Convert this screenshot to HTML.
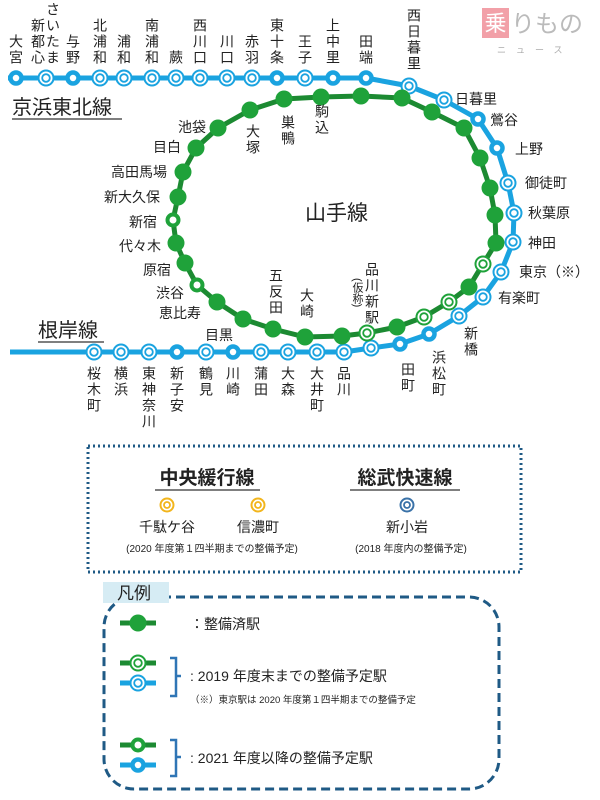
<!DOCTYPE html>
<html><head><meta charset="utf-8"><style>
html,body{margin:0;padding:0;background:#fff;width:600px;height:800px;overflow:hidden}
svg{display:block}
text{font-family:"Liberation Sans","Noto Sans CJK JP",sans-serif;fill:#222}
.v{writing-mode:vertical-rl;font-size:14px;letter-spacing:2px}
.h{font-size:14px}
</style></head><body>
<svg width="600" height="800" viewBox="0 0 600 800" xmlns="http://www.w3.org/2000/svg">
<defs>
<g id="bA"><circle r="5.5" fill="#fff" stroke="#1aa3e0" stroke-width="4.5"/></g>
<g id="bB"><circle r="7.5" fill="#fff" stroke="#1aa3e0" stroke-width="2"/><circle r="3.8" fill="#fff" stroke="#1aa3e0" stroke-width="1.8"/></g>
<g id="gS"><circle r="8.5" fill="#1fa23a"/></g>
<g id="gB"><circle r="7.5" fill="#fff" stroke="#1fa23a" stroke-width="2"/><circle r="3.8" fill="#fff" stroke="#1fa23a" stroke-width="1.8"/></g>
<g id="gH"><circle r="5.5" fill="#fff" stroke="#1fa23a" stroke-width="4"/></g>
</defs>

<!-- logo -->
<rect x="482" y="8" width="27" height="30" fill="#f2a0a8"/>
<text x="495.5" y="31" font-size="22" text-anchor="middle" style="fill:#fff">乗</text>
<text x="511" y="32" font-size="24" style="fill:#bbb">りもの</text>
<text x="497" y="53" font-size="9" letter-spacing="10" style="fill:#aaa">ニュース</text>

<!-- blue line -->
<polyline fill="none" stroke="#1aa3e0" stroke-width="5" stroke-linejoin="round" points="8,78 366,78 409,86 444,100 478,119 497,148 508,183 514,213 513,242 501,272 483,297 459,316 429,334 400,344 371,348 344,352 10,352"/>
<!-- green loop -->
<polygon fill="none" stroke="#1c8a32" stroke-width="5" stroke-linejoin="round" points="218,128 250,110 284,99 321,97 361,96 402,98 432,112 464,128 480,158 490,188 495,215 496,243 483,264 469,287 449,302 424,317 397,327 367,333 342,336 305,337 273,329 243,319 217,302 197,285 185,263 176,243 173,220 178,197 183,172 196,148"/>

<!-- blue stations -->
<use href="#bA" x="16" y="78"/><use href="#bB" x="46" y="78"/><use href="#bA" x="73" y="78"/>
<use href="#bB" x="100" y="78"/><use href="#bB" x="124" y="78"/><use href="#bB" x="152" y="78"/>
<use href="#bB" x="176" y="78"/><use href="#bB" x="200" y="78"/><use href="#bB" x="227" y="78"/>
<use href="#bB" x="252" y="78"/><use href="#bA" x="277" y="78"/><use href="#bB" x="305" y="78"/>
<use href="#bA" x="333" y="78"/><use href="#bA" x="366" y="78"/>
<use href="#bB" x="409" y="86"/><use href="#bB" x="444" y="100"/><use href="#bA" x="478" y="119"/>
<use href="#bA" x="497" y="148"/><use href="#bB" x="508" y="183"/><use href="#bB" x="514" y="213"/>
<use href="#bB" x="513" y="242"/><use href="#bB" x="501" y="272"/><use href="#bB" x="483" y="297"/>
<use href="#bB" x="459" y="316"/><use href="#bA" x="429" y="334"/><use href="#bA" x="400" y="344"/>
<use href="#bB" x="371" y="348"/><use href="#bB" x="344" y="352"/><use href="#bB" x="317" y="352"/>
<use href="#bB" x="288" y="352"/><use href="#bB" x="261" y="352"/><use href="#bA" x="233" y="352"/>
<use href="#bB" x="206" y="352"/><use href="#bA" x="177" y="352"/><use href="#bB" x="149" y="352"/>
<use href="#bB" x="121" y="352"/><use href="#bB" x="94" y="352"/>

<!-- green stations -->
<use href="#gS" x="218" y="128"/><use href="#gS" x="250" y="110"/><use href="#gS" x="284" y="99"/>
<use href="#gS" x="321" y="97"/><use href="#gS" x="361" y="96"/><use href="#gS" x="402" y="98"/>
<use href="#gS" x="432" y="112"/><use href="#gS" x="464" y="128"/><use href="#gS" x="480" y="158"/>
<use href="#gS" x="490" y="188"/><use href="#gS" x="495" y="215"/><use href="#gS" x="496" y="243"/>
<use href="#gB" x="483" y="264"/><use href="#gS" x="469" y="287"/><use href="#gB" x="449" y="302"/>
<use href="#gB" x="424" y="317"/><use href="#gS" x="397" y="327"/><use href="#gB" x="367" y="333"/>
<use href="#gS" x="342" y="336"/><use href="#gS" x="305" y="337"/><use href="#gS" x="273" y="329"/>
<use href="#gS" x="243" y="319"/><use href="#gS" x="217" y="302"/><use href="#gH" x="197" y="285"/>
<use href="#gS" x="185" y="263"/><use href="#gS" x="176" y="243"/><use href="#gH" x="173" y="220"/>
<use href="#gS" x="178" y="197"/><use href="#gS" x="183" y="172"/><use href="#gS" x="196" y="148"/>

<!-- top labels -->
<g class="v" text-anchor="end">
<text x="16" y="66" class="v">大宮</text>
<text x="38" y="66" class="v">新都心</text>
<text x="53" y="66" class="v">さいたま</text>
<text x="73" y="66" class="v">与野</text>
<text x="100" y="66" class="v">北浦和</text>
<text x="124" y="66" class="v">浦和</text>
<text x="152" y="66" class="v">南浦和</text>
<text x="176" y="66" class="v">蕨</text>
<text x="200" y="66" class="v">西川口</text>
<text x="227" y="66" class="v">川口</text>
<text x="252" y="66" class="v">赤羽</text>
<text x="277" y="66" class="v">東十条</text>
<text x="305" y="66" class="v">王子</text>
<text x="333" y="66" class="v">上中里</text>
<text x="366" y="66" class="v">田端</text>
<text x="414" y="72" class="v">西日暮里</text>
</g>
<g class="h">
<text x="455" y="104">日暮里</text>
<text x="490" y="125">鶯谷</text>
<text x="515" y="154">上野</text>
<text x="525" y="188">御徒町</text>
<text x="528" y="218">秋葉原</text>
<text x="528" y="248">神田</text>
<text x="519" y="277">東京（※）</text>
<text x="498" y="303">有楽町</text>
<text x="206" y="132" text-anchor="end">池袋</text>
<text x="181" y="152" text-anchor="end">目白</text>
<text x="167" y="177" text-anchor="end">高田馬場</text>
<text x="160" y="202" text-anchor="end">新大久保</text>
<text x="157" y="227" text-anchor="end">新宿</text>
<text x="161" y="251" text-anchor="end">代々木</text>
<text x="171" y="275" text-anchor="end">原宿</text>
<text x="184" y="298" text-anchor="end">渋谷</text>
<text x="201" y="318" text-anchor="end">恵比寿</text>
<text x="233" y="340" text-anchor="end">目黒</text>
</g>
<g>
<text x="253" y="124" class="v">大塚</text>
<text x="288" y="115" class="v">巣鴨</text>
<text x="322" y="104" class="v">駒込</text>
<text x="276" y="268" class="v">五反田</text>
<text x="307" y="288" class="v">大崎</text>
<text x="372" y="262" class="v">品川新駅</text>
<text x="357" y="278" class="v" style="font-size:11px;letter-spacing:0">(仮称)</text>
<text x="471" y="326" class="v">新橋</text>
<text x="439" y="350" class="v">浜松町</text>
<text x="408" y="362" class="v">田町</text>
<text x="94" y="366" class="v">桜木町</text>
<text x="121" y="366" class="v">横浜</text>
<text x="149" y="366" class="v">東神奈川</text>
<text x="177" y="366" class="v">新子安</text>
<text x="206" y="366" class="v">鶴見</text>
<text x="233" y="366" class="v">川崎</text>
<text x="261" y="366" class="v">蒲田</text>
<text x="288" y="366" class="v">大森</text>
<text x="317" y="366" class="v">大井町</text>
<text x="344" y="366" class="v">品川</text>
</g>

<text x="12" y="114" font-size="20">京浜東北線</text>
<line x1="12" y1="119" x2="122" y2="119" stroke="#555" stroke-width="1.5"/>
<text x="38" y="337" font-size="20">根岸線</text>
<line x1="38" y1="342" x2="104" y2="342" stroke="#555" stroke-width="1.5"/>
<text x="305" y="220" font-size="21">山手線</text>

<!-- dotted box -->
<rect x="88" y="446" width="433" height="126" fill="none" stroke="#1f5a85" stroke-width="3" stroke-dasharray="2 3"/>
<text x="207" y="484" font-size="19" text-anchor="middle" font-weight="bold">中央緩行線</text>
<line x1="155" y1="490" x2="260" y2="490" stroke="#555" stroke-width="1.5"/>
<text x="405" y="484" font-size="19" text-anchor="middle" font-weight="bold">総武快速線</text>
<line x1="350" y1="490" x2="460" y2="490" stroke="#555" stroke-width="1.5"/>
<circle cx="167" cy="505" r="6.5" fill="#fff" stroke="#f2b51c" stroke-width="2"/><circle cx="167" cy="505" r="3" fill="#fff" stroke="#f2b51c" stroke-width="1.8"/>
<circle cx="258" cy="505" r="6.5" fill="#fff" stroke="#f2b51c" stroke-width="2"/><circle cx="258" cy="505" r="3" fill="#fff" stroke="#f2b51c" stroke-width="1.8"/>
<circle cx="407" cy="505" r="6.5" fill="#fff" stroke="#3a72a8" stroke-width="2"/><circle cx="407" cy="505" r="3" fill="#fff" stroke="#3a72a8" stroke-width="1.8"/>
<text x="167" y="532" font-size="14" text-anchor="middle">千駄ケ谷</text>
<text x="258" y="532" font-size="14" text-anchor="middle">信濃町</text>
<text x="407" y="532" font-size="14" text-anchor="middle">新小岩</text>
<text x="212" y="552" font-size="10" text-anchor="middle">(2020 年度第１四半期までの整備予定)</text>
<text x="411" y="552" font-size="10" text-anchor="middle">(2018 年度内の整備予定)</text>

<!-- legend -->
<rect x="104" y="597" width="395" height="192" rx="30" fill="none" stroke="#1f5a85" stroke-width="3" stroke-dasharray="9 5"/>
<rect x="103" y="582" width="66" height="21" fill="#d6ecf4"/>
<text x="117" y="599" font-size="17">凡例</text>
<line x1="120" y1="623" x2="156" y2="623" stroke="#1c8a32" stroke-width="5"/>
<use href="#gS" x="138" y="623"/>
<text x="190" y="629" font-size="14">：整備済駅</text>
<line x1="120" y1="663" x2="156" y2="663" stroke="#1c8a32" stroke-width="5"/>
<use href="#gB" x="138" y="663"/>
<line x1="120" y1="683" x2="156" y2="683" stroke="#1aa3e0" stroke-width="5"/>
<use href="#bB" x="138" y="683"/>
<path d="M170,658 H176 V696 H170 M176,676 H181" fill="none" stroke="#2f75b5" stroke-width="2.5"/>
<text x="190" y="681" font-size="14">: 2019 年度末までの整備予定駅</text>
<text x="190" y="703" font-size="9.5">（※）東京駅は 2020 年度第１四半期までの整備予定</text>
<line x1="120" y1="745" x2="156" y2="745" stroke="#1c8a32" stroke-width="5"/>
<use href="#gH" x="138" y="745"/>
<line x1="120" y1="765" x2="156" y2="765" stroke="#1aa3e0" stroke-width="5"/>
<use href="#bA" x="138" y="765"/>
<path d="M170,740 H176 V776 H170 M176,757 H181" fill="none" stroke="#2f75b5" stroke-width="2.5"/>
<text x="190" y="763" font-size="14">: 2021 年度以降の整備予定駅</text>
</svg>
</body></html>
